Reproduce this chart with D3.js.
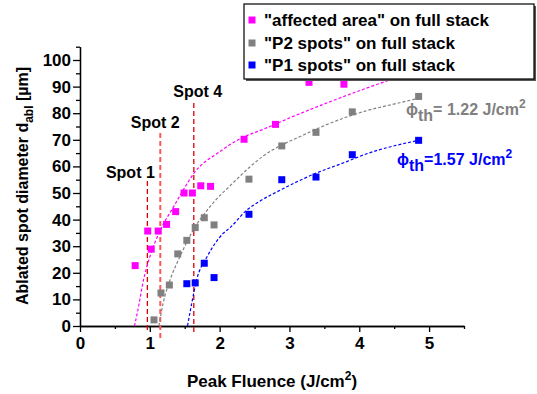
<!DOCTYPE html>
<html>
<head>
<meta charset="utf-8">
<script src="https://cdn.jsdelivr.net/npm/d3@7"></script>
<style>
  body { margin: 0; background: #fff; }
  svg text { font-family: "Liberation Sans", Arial, sans-serif; font-weight: bold; }
</style>
</head>
<body>
<div id="chart"></div>
<script>
// Messpunkte: Peak Fluence (J/cm²) und Durchmesser (µm)
const affectedFluence = [0.79, 0.97, 1.02, 1.12, 1.24, 1.37, 1.49, 1.61, 1.73, 1.87, 2.35, 2.80, 3.28, 3.78];
const affectedDiameter = [22.7, 35.7, 28.9, 35.7, 38.2, 43.0, 50.0, 50.0, 52.7, 52.5, 70.2, 75.8, 91.6, 90.9];

const p2Fluence = [1.06, 1.16, 1.28, 1.40, 1.53, 1.65, 1.78, 1.92, 2.42, 2.89, 3.38, 3.90, 4.85];
const p2Diameter = [2.3, 12.4, 15.4, 27.1, 32.2, 37.0, 40.7, 38.0, 55.2, 67.7, 72.8, 80.5, 86.3];

const p1Fluence = [1.53, 1.65, 1.78, 1.92, 2.42, 2.89, 3.38, 3.90, 4.85];
const p1Diameter = [15.9, 16.2, 23.6, 18.2, 42.0, 55.0, 56.0, 64.4, 69.8];

// Fitkurven
const affectedFitF = [0.78, 0.82, 0.91, 1.00, 1.15, 1.34, 1.55, 1.62, 2.00, 2.30, 2.63, 3.10, 3.58, 4.06, 4.44, 4.85];
const affectedFitD = [0, 4.8, 17.3, 26.0, 36.0, 44.8, 54.2, 57.0, 65.5, 70.5, 74.0, 79.3, 84.3, 89.0, 92.5, 96.0];
const p2FitF = [1.13, 1.19, 1.29, 1.43, 1.62, 1.86, 2.20, 2.42, 2.63, 2.87, 3.10, 3.58, 4.06, 4.54, 4.85];
const p2FitD = [0, 8.5, 17.3, 26.0, 36.0, 44.8, 54.0, 59.5, 64.0, 67.8, 70.6, 76.2, 80.6, 83.7, 85.6];
const p1FitF = [1.54, 1.60, 1.67, 1.82, 2.05, 2.15, 2.39, 2.58, 2.87, 3.34, 3.82, 4.06, 4.85];
const p1FitD = [0, 8.5, 17.3, 26.0, 34.8, 37.0, 43.6, 47.0, 51.1, 57.0, 61.8, 64.3, 69.8];

// Markierte Spots
const spotLabels = ["Spot 1", "Spot 2", "Spot 4"];
const spotFluence = [0.965, 1.15, 1.63];
const spotTop = [54.5, 72.6, 83.8];
const spotBottom = [-2.6, -4.8, -2.6];

const xTicks = [0, 1, 2, 3, 4, 5];
const yTicks = [0, 10, 20, 30, 40, 50, 60, 70, 80, 90, 100];

const legendLabels = ['"affected area" on full stack', '"P2 spots" on full stack', '"P1 spots" on full stack'];

const width = 537, height = 394;

const svg = d3.select("#chart").append("svg")
  .attr("width", width)
  .attr("height", height);

const x = d3.scaleLinear().domain([0, 5.5]).range([80, 464]);
const y = d3.scaleLinear().domain([0, 105]).range([326, 46.7]);

function styleAxis(g) {
  g.selectAll("path, line").attr("stroke", "#000").attr("stroke-width", 1.3);
  g.selectAll("text").attr("fill", "#000").style("font-size", "17px");
}

// Nebenstriche
svg.append("g").attr("transform", "translate(0,326)")
  .call(d3.axisBottom(x).tickValues(d3.range(0.5, 5.6, 1)).tickSize(3).tickSizeOuter(0).tickFormat(""))
  .call(styleAxis);
svg.append("g").attr("transform", "translate(80,0)")
  .call(d3.axisLeft(y).tickValues(d3.range(5, 106, 10)).tickSize(4).tickSizeOuter(0).tickFormat(""))
  .call(styleAxis);

// Achsen
svg.append("g").attr("transform", "translate(0,326)")
  .call(d3.axisBottom(x).tickValues(xTicks).tickSize(6).tickPadding(5).tickSizeOuter(0).tickFormat(d3.format("d")))
  .call(styleAxis);
svg.append("g").attr("transform", "translate(80,0)")
  .call(d3.axisLeft(y).tickValues(yTicks).tickSize(7).tickPadding(2).tickSizeOuter(0).tickFormat(d3.format("d")))
  .call(styleAxis);

// Achsentitel
const xt = svg.append("text")
  .attr("x", 272).attr("y", 387)
  .attr("text-anchor", "middle")
  .style("font-size", "17px");
xt.append("tspan").text("Peak Fluence (J/cm");
xt.append("tspan").attr("dy", -7).style("font-size", "12px").text("2");
xt.append("tspan").attr("dy", 7).text(")");

const yt = svg.append("text")
  .attr("transform", "translate(28,186) rotate(-90)")
  .attr("text-anchor", "middle")
  .style("font-size", "16px");
yt.append("tspan").text("Ablated spot diameter d");
yt.append("tspan").attr("dy", 5).style("font-size", "12px").text("abl");
yt.append("tspan").attr("dy", -5).text(" [µm]");

// Spot-Linien
const spotOffsets = [[-17, -3], [-5, -5], [4, -6]];
spotFluence.forEach((f, i) => {
  svg.append("line")
    .attr("x1", x(f)).attr("x2", x(f))
    .attr("y1", y(spotTop[i])).attr("y2", y(spotBottom[i]))
    .attr("stroke", i === 1 ? "#ff5a5a" : "#e00000")
    .attr("stroke-width", i === 1 ? 2 : 1.3)
    .attr("stroke-dasharray", "5,3");
  svg.append("text")
    .attr("x", x(f) + spotOffsets[i][0])
    .attr("y", y(spotTop[i]) + spotOffsets[i][1])
    .attr("text-anchor", "middle")
    .style("font-size", "16px")
    .text(spotLabels[i]);
});

// Fitkurven
const line = d3.line().x(d => x(d[0])).y(d => y(d[1])).curve(d3.curveMonotoneX);
const fits = [
  { f: affectedFitF, d: affectedFitD, color: "#ff00ff" },
  { f: p2FitF, d: p2FitD, color: "#808080" },
  { f: p1FitF, d: p1FitD, color: "#0000ff" }
];
fits.forEach(s => {
  svg.append("path")
    .attr("d", line(d3.zip(s.f, s.d)))
    .attr("fill", "none")
    .attr("stroke", s.color)
    .attr("stroke-width", 1.2)
    .attr("stroke-dasharray", "3,2");
});

// Messpunkte
const series = [
  { f: affectedFluence, d: affectedDiameter, color: "#ff00ff" },
  { f: p2Fluence, d: p2Diameter, color: "#808080" },
  { f: p1Fluence, d: p1Diameter, color: "#0000ff" }
];
const ms = 7;
series.forEach(s => {
  svg.append("g").selectAll("rect")
    .data(d3.zip(s.f, s.d))
    .join("rect")
    .attr("x", d => x(d[0]) - ms / 2)
    .attr("y", d => y(d[1]) - ms / 2)
    .attr("width", ms).attr("height", ms)
    .attr("fill", s.color);
});

// Schwellwert-Beschriftungen
function phiLabel(px, py, value, color) {
  const t = svg.append("text").attr("x", px).attr("y", py).attr("fill", color).style("font-size", "16px");
  t.append("tspan").text("ϕ");
  t.append("tspan").attr("dy", 6).text("th");
  t.append("tspan").attr("dy", -6).text(value + " J/cm");
  t.append("tspan").attr("dy", -7).style("font-size", "12px").text("2");
}
phiLabel(406, 115, "= 1.22", "#808080");
phiLabel(397, 165, "=1.57", "#0000ff");

// Legende
const legend = svg.append("g");
legend.append("rect").attr("x", 246).attr("y", 6).attr("width", 290).attr("height", 75).attr("fill", "#555");
legend.append("rect").attr("x", 244).attr("y", 4).attr("width", 290).attr("height", 75)
  .attr("fill", "#fff").attr("stroke", "#000").attr("stroke-width", 1.2);
const rowY = [20, 43, 65];
legendLabels.forEach((lab, i) => {
  legend.append("rect")
    .attr("x", 252 - ms / 2).attr("y", rowY[i] - ms / 2)
    .attr("width", ms).attr("height", ms)
    .attr("fill", series[i].color);
  legend.append("text")
    .attr("x", 264).attr("y", rowY[i] + 6)
    .style("font-size", "17px")
    .text(lab);
});
</script>
</body>
</html>
